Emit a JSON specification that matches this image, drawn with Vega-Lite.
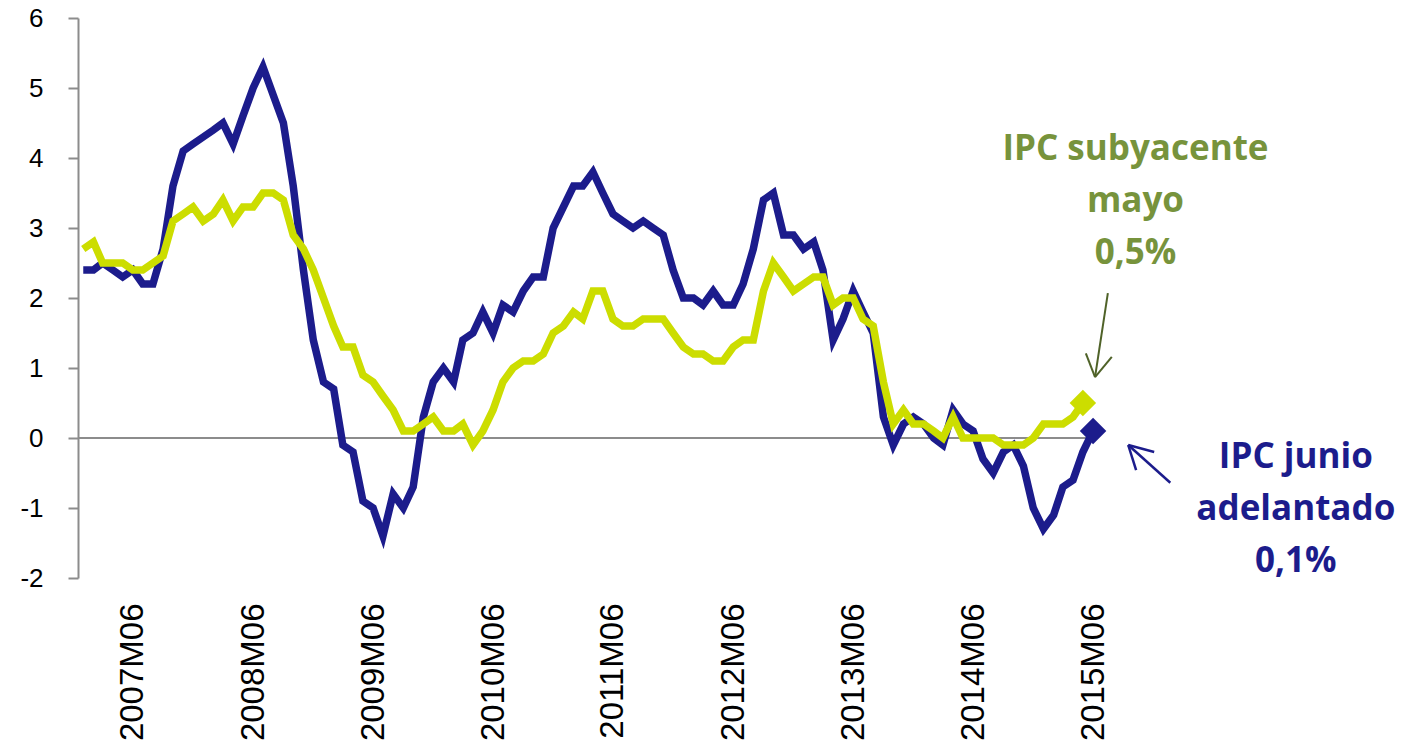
{
  "$schema": "https://vega.github.io/schema/vega-lite/v6.json",
  "width": 1020,
  "height": 560,
  "autosize": {"type": "none"},
  "padding": {"left": 78, "top": 18, "right": 306, "bottom": 168},
  "background": "white",
  "config": {"view": {"stroke": null}, "axis": {"grid": false}},
  "datasets": {
    "ipc": [
      {"fecha": "2007-01-01", "general": 2.4, "subyacente": 2.7},
      {"fecha": "2007-02-01", "general": 2.4, "subyacente": 2.8},
      {"fecha": "2007-03-01", "general": 2.5, "subyacente": 2.5},
      {"fecha": "2007-04-01", "general": 2.4, "subyacente": 2.5},
      {"fecha": "2007-05-01", "general": 2.3, "subyacente": 2.5},
      {"fecha": "2007-06-01", "general": 2.4, "subyacente": 2.4},
      {"fecha": "2007-07-01", "general": 2.2, "subyacente": 2.4},
      {"fecha": "2007-08-01", "general": 2.2, "subyacente": 2.5},
      {"fecha": "2007-09-01", "general": 2.7, "subyacente": 2.6},
      {"fecha": "2007-10-01", "general": 3.6, "subyacente": 3.1},
      {"fecha": "2007-11-01", "general": 4.1, "subyacente": 3.2},
      {"fecha": "2007-12-01", "general": 4.2, "subyacente": 3.3},
      {"fecha": "2008-01-01", "general": 4.3, "subyacente": 3.1},
      {"fecha": "2008-02-01", "general": 4.4, "subyacente": 3.2},
      {"fecha": "2008-03-01", "general": 4.5, "subyacente": 3.4},
      {"fecha": "2008-04-01", "general": 4.2, "subyacente": 3.1},
      {"fecha": "2008-05-01", "general": 4.6, "subyacente": 3.3},
      {"fecha": "2008-06-01", "general": 5.0, "subyacente": 3.3},
      {"fecha": "2008-07-01", "general": 5.3, "subyacente": 3.5},
      {"fecha": "2008-08-01", "general": 4.9, "subyacente": 3.5},
      {"fecha": "2008-09-01", "general": 4.5, "subyacente": 3.4},
      {"fecha": "2008-10-01", "general": 3.6, "subyacente": 2.9},
      {"fecha": "2008-11-01", "general": 2.4, "subyacente": 2.7},
      {"fecha": "2008-12-01", "general": 1.4, "subyacente": 2.4},
      {"fecha": "2009-01-01", "general": 0.8, "subyacente": 2.0},
      {"fecha": "2009-02-01", "general": 0.7, "subyacente": 1.6},
      {"fecha": "2009-03-01", "general": -0.1, "subyacente": 1.3},
      {"fecha": "2009-04-01", "general": -0.2, "subyacente": 1.3},
      {"fecha": "2009-05-01", "general": -0.9, "subyacente": 0.9},
      {"fecha": "2009-06-01", "general": -1.0, "subyacente": 0.8},
      {"fecha": "2009-07-01", "general": -1.4, "subyacente": 0.6},
      {"fecha": "2009-08-01", "general": -0.8, "subyacente": 0.4},
      {"fecha": "2009-09-01", "general": -1.0, "subyacente": 0.1},
      {"fecha": "2009-10-01", "general": -0.7, "subyacente": 0.1},
      {"fecha": "2009-11-01", "general": 0.3, "subyacente": 0.2},
      {"fecha": "2009-12-01", "general": 0.8, "subyacente": 0.3},
      {"fecha": "2010-01-01", "general": 1.0, "subyacente": 0.1},
      {"fecha": "2010-02-01", "general": 0.8, "subyacente": 0.1},
      {"fecha": "2010-03-01", "general": 1.4, "subyacente": 0.2},
      {"fecha": "2010-04-01", "general": 1.5, "subyacente": -0.1},
      {"fecha": "2010-05-01", "general": 1.8, "subyacente": 0.1},
      {"fecha": "2010-06-01", "general": 1.5, "subyacente": 0.4},
      {"fecha": "2010-07-01", "general": 1.9, "subyacente": 0.8},
      {"fecha": "2010-08-01", "general": 1.8, "subyacente": 1.0},
      {"fecha": "2010-09-01", "general": 2.1, "subyacente": 1.1},
      {"fecha": "2010-10-01", "general": 2.3, "subyacente": 1.1},
      {"fecha": "2010-11-01", "general": 2.3, "subyacente": 1.2},
      {"fecha": "2010-12-01", "general": 3.0, "subyacente": 1.5},
      {"fecha": "2011-01-01", "general": 3.3, "subyacente": 1.6},
      {"fecha": "2011-02-01", "general": 3.6, "subyacente": 1.8},
      {"fecha": "2011-03-01", "general": 3.6, "subyacente": 1.7},
      {"fecha": "2011-04-01", "general": 3.8, "subyacente": 2.1},
      {"fecha": "2011-05-01", "general": 3.5, "subyacente": 2.1},
      {"fecha": "2011-06-01", "general": 3.2, "subyacente": 1.7},
      {"fecha": "2011-07-01", "general": 3.1, "subyacente": 1.6},
      {"fecha": "2011-08-01", "general": 3.0, "subyacente": 1.6},
      {"fecha": "2011-09-01", "general": 3.1, "subyacente": 1.7},
      {"fecha": "2011-10-01", "general": 3.0, "subyacente": 1.7},
      {"fecha": "2011-11-01", "general": 2.9, "subyacente": 1.7},
      {"fecha": "2011-12-01", "general": 2.4, "subyacente": 1.5},
      {"fecha": "2012-01-01", "general": 2.0, "subyacente": 1.3},
      {"fecha": "2012-02-01", "general": 2.0, "subyacente": 1.2},
      {"fecha": "2012-03-01", "general": 1.9, "subyacente": 1.2},
      {"fecha": "2012-04-01", "general": 2.1, "subyacente": 1.1},
      {"fecha": "2012-05-01", "general": 1.9, "subyacente": 1.1},
      {"fecha": "2012-06-01", "general": 1.9, "subyacente": 1.3},
      {"fecha": "2012-07-01", "general": 2.2, "subyacente": 1.4},
      {"fecha": "2012-08-01", "general": 2.7, "subyacente": 1.4},
      {"fecha": "2012-09-01", "general": 3.4, "subyacente": 2.1},
      {"fecha": "2012-10-01", "general": 3.5, "subyacente": 2.5},
      {"fecha": "2012-11-01", "general": 2.9, "subyacente": 2.3},
      {"fecha": "2012-12-01", "general": 2.9, "subyacente": 2.1},
      {"fecha": "2013-01-01", "general": 2.7, "subyacente": 2.2},
      {"fecha": "2013-02-01", "general": 2.8, "subyacente": 2.3},
      {"fecha": "2013-03-01", "general": 2.4, "subyacente": 2.3},
      {"fecha": "2013-04-01", "general": 1.4, "subyacente": 1.9},
      {"fecha": "2013-05-01", "general": 1.7, "subyacente": 2.0},
      {"fecha": "2013-06-01", "general": 2.1, "subyacente": 2.0},
      {"fecha": "2013-07-01", "general": 1.8, "subyacente": 1.7},
      {"fecha": "2013-08-01", "general": 1.5, "subyacente": 1.6},
      {"fecha": "2013-09-01", "general": 0.3, "subyacente": 0.8},
      {"fecha": "2013-10-01", "general": -0.1, "subyacente": 0.2},
      {"fecha": "2013-11-01", "general": 0.2, "subyacente": 0.4},
      {"fecha": "2013-12-01", "general": 0.3, "subyacente": 0.2},
      {"fecha": "2014-01-01", "general": 0.2, "subyacente": 0.2},
      {"fecha": "2014-02-01", "general": 0.0, "subyacente": 0.1},
      {"fecha": "2014-03-01", "general": -0.1, "subyacente": 0.0},
      {"fecha": "2014-04-01", "general": 0.4, "subyacente": 0.3},
      {"fecha": "2014-05-01", "general": 0.2, "subyacente": 0.0},
      {"fecha": "2014-06-01", "general": 0.1, "subyacente": 0.0},
      {"fecha": "2014-07-01", "general": -0.3, "subyacente": 0.0},
      {"fecha": "2014-08-01", "general": -0.5, "subyacente": 0.0},
      {"fecha": "2014-09-01", "general": -0.2, "subyacente": -0.1},
      {"fecha": "2014-10-01", "general": -0.1, "subyacente": -0.1},
      {"fecha": "2014-11-01", "general": -0.4, "subyacente": -0.1},
      {"fecha": "2014-12-01", "general": -1.0, "subyacente": 0.0},
      {"fecha": "2015-01-01", "general": -1.3, "subyacente": 0.2},
      {"fecha": "2015-02-01", "general": -1.1, "subyacente": 0.2},
      {"fecha": "2015-03-01", "general": -0.7, "subyacente": 0.2},
      {"fecha": "2015-04-01", "general": -0.6, "subyacente": 0.3},
      {"fecha": "2015-05-01", "general": -0.2, "subyacente": 0.5},
      {"fecha": "2015-06-01", "general": 0.1}
    ],
    "textos": [
      {"serie": "subyacente", "fecha": "2015-10-08", "valor": 3.97, "texto": "IPC subyacente"},
      {"serie": "subyacente", "fecha": "2015-10-08", "valor": 3.23, "texto": "mayo"},
      {"serie": "subyacente", "fecha": "2015-10-08", "valor": 2.49, "texto": "0,5%"},
      {"serie": "general", "fecha": "2017-02-07", "valor": -0.43, "texto": "IPC junio"},
      {"serie": "general", "fecha": "2017-02-07", "valor": -1.17, "texto": "adelantado"},
      {"serie": "general", "fecha": "2017-02-07", "valor": -1.91, "texto": "0,1%"}
    ],
    "flechas": [
      {"serie": "subyacente", "fecha": "2015-07-16", "valor": 2.07, "fecha2": "2015-06-07", "valor2": 0.87},
      {"serie": "subyacente", "fecha": "2015-05-10", "valor": 1.21, "fecha2": "2015-06-07", "valor2": 0.87},
      {"serie": "subyacente", "fecha": "2015-07-28", "valor": 1.16, "fecha2": "2015-06-07", "valor2": 0.87},
      {"serie": "general", "fecha": "2016-01-22", "valor": -0.64, "fecha2": "2015-09-16", "valor2": -0.10},
      {"serie": "general", "fecha": "2015-12-04", "valor": -0.20, "fecha2": "2015-09-16", "valor2": -0.10},
      {"serie": "general", "fecha": "2015-10-10", "valor": -0.46, "fecha2": "2015-09-16", "valor2": -0.10}
    ],
    "cero": [
      {"fecha": "2006-12-16", "fecha2": "2015-06-16", "valor": 0}
    ]
  },
  "encoding": {
    "x": {
      "field": "fecha",
      "type": "temporal",
      "title": null,
      "scale": {
        "type": "utc",
        "nice": false,
        "domain": [
          {"year": 2006, "month": 12, "date": 16, "utc": true},
          {"year": 2015, "month": 6, "date": 16, "utc": true}
        ]
      },
      "axis": {
        "orient": "bottom",
        "domain": false,
        "ticks": false,
        "grid": false,
        "values": [
          {"year": 2007, "month": 6, "date": 1, "utc": true},
          {"year": 2008, "month": 6, "date": 1, "utc": true},
          {"year": 2009, "month": 6, "date": 1, "utc": true},
          {"year": 2010, "month": 6, "date": 1, "utc": true},
          {"year": 2011, "month": 6, "date": 1, "utc": true},
          {"year": 2012, "month": 6, "date": 1, "utc": true},
          {"year": 2013, "month": 6, "date": 1, "utc": true},
          {"year": 2014, "month": 6, "date": 1, "utc": true},
          {"year": 2015, "month": 6, "date": 1, "utc": true}
        ],
        "labelExpr": "utcFormat(datum.value, '%YM%m')",
        "labelAngle": -90,
        "labelFont": "Liberation Sans",
        "labelFontSize": 33,
        "labelColor": "#000000",
        "labelPadding": 25,
        "labelOverlap": false,
        "labelFlush": false,
        "labelBound": false
      }
    },
    "y": {
      "field": "valor",
      "type": "quantitative",
      "title": null,
      "scale": {"domain": [-2, 6], "nice": false, "zero": false},
      "axis": {
        "values": [-2, -1, 0, 1, 2, 3, 4, 5, 6],
        "labelExpr": "toString(datum.value)",
        "grid": false,
        "domain": true,
        "domainColor": "#8C8C8C",
        "domainWidth": 2,
        "ticks": true,
        "tickColor": "#8C8C8C",
        "tickWidth": 2,
        "tickSize": 10,
        "labelFont": "Liberation Sans",
        "labelFontSize": 26,
        "labelColor": "#000000",
        "labelPadding": 25,
        "labelFlush": false,
        "labelBound": false,
        "labelOverlap": false
      }
    }
  },
  "layer": [
    {
      "data": {"name": "cero", "format": {"parse": {"fecha": "date", "fecha2": "date"}}},
      "mark": {"type": "rule", "color": "#8C8C8C", "strokeWidth": 2},
      "encoding": {"x2": {"field": "fecha2"}}
    },
    {
      "data": {"name": "ipc", "format": {"parse": {"fecha": "date"}}},
      "transform": [
        {"fold": ["general"], "as": ["serie", "valor"]}
      ],
      "mark": {"type": "line", "color": "#1C1C8C", "strokeWidth": 7.5, "strokeCap": "butt"}
    },
    {
      "data": {"name": "ipc", "format": {"parse": {"fecha": "date"}}},
      "transform": [
        {"fold": ["subyacente"], "as": ["serie", "valor"]},
        {"filter": "isValid(datum.valor)"}
      ],
      "mark": {"type": "line", "color": "#CCDD00", "strokeWidth": 7.5, "strokeCap": "butt"}
    },
    {
      "data": {"name": "ipc", "format": {"parse": {"fecha": "date"}}},
      "transform": [
        {"fold": ["general"], "as": ["serie", "valor"]},
        {"filter": "utcyear(datum.fecha) == 2015 && utcmonth(datum.fecha) == 5"}
      ],
      "mark": {"type": "point", "shape": "diamond", "filled": true, "size": 700, "color": "#1C1C8C", "opacity": 1}
    },
    {
      "data": {"name": "ipc", "format": {"parse": {"fecha": "date"}}},
      "transform": [
        {"fold": ["subyacente"], "as": ["serie", "valor"]},
        {"filter": "utcyear(datum.fecha) == 2015 && utcmonth(datum.fecha) == 4"}
      ],
      "mark": {"type": "point", "shape": "diamond", "filled": true, "size": 700, "color": "#CCDD00", "opacity": 1}
    },
    {
      "data": {"name": "flechas", "format": {"parse": {"fecha": "date", "fecha2": "date"}}},
      "transform": [{"filter": "datum.serie == 'subyacente'"}],
      "mark": {"type": "rule", "color": "#4F6228", "strokeWidth": 2},
      "encoding": {"x2": {"field": "fecha2"}, "y2": {"field": "valor2"}}
    },
    {
      "data": {"name": "flechas", "format": {"parse": {"fecha": "date", "fecha2": "date"}}},
      "transform": [{"filter": "datum.serie == 'general'"}],
      "mark": {"type": "rule", "color": "#1C1C8C", "strokeWidth": 2.5},
      "encoding": {"x2": {"field": "fecha2"}, "y2": {"field": "valor2"}}
    },
    {
      "data": {"name": "textos", "format": {"parse": {"fecha": "date"}}},
      "transform": [{"filter": "datum.serie == 'subyacente'"}],
      "mark": {"type": "text", "font": "Open Sans", "fontWeight": "bold", "fontSize": 35, "align": "center", "baseline": "alphabetic", "color": "#77933C"},
      "encoding": {"text": {"field": "texto"}}
    },
    {
      "data": {"name": "textos", "format": {"parse": {"fecha": "date"}}},
      "transform": [{"filter": "datum.serie == 'general'"}],
      "mark": {"type": "text", "font": "Open Sans", "fontWeight": "bold", "fontSize": 35, "align": "center", "baseline": "alphabetic", "color": "#1C1C8C"},
      "encoding": {"text": {"field": "texto"}}
    }
  ]
}
